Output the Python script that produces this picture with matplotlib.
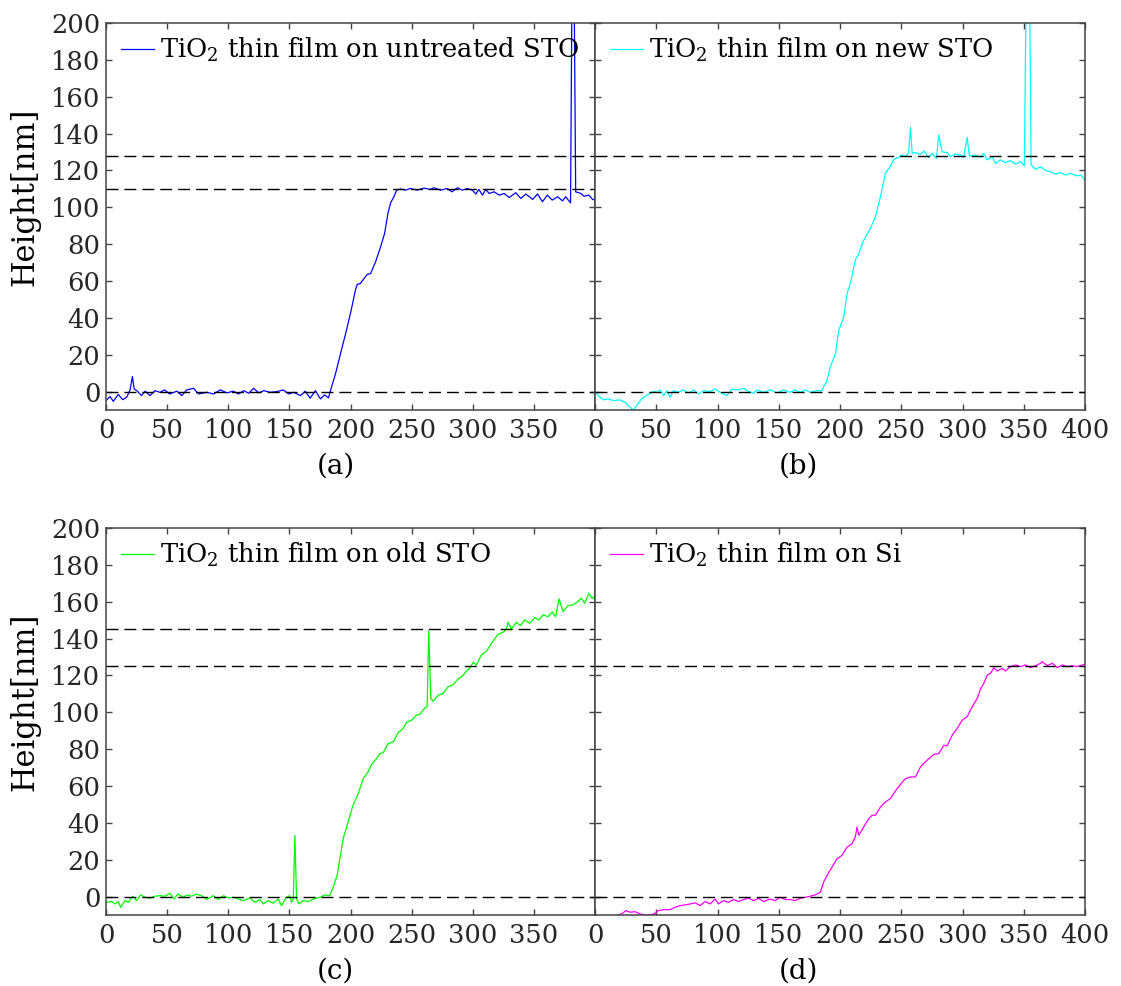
import numpy as np
import matplotlib
matplotlib.use('Agg')
import matplotlib.pyplot as plt

# height profiles (x position, height in nm), one per sample
prof_a = [(0, -4.9), (3.3, -2.7), (6, -5.3), (10, -1.6), (13.7, -4.4), (17, -3.0), (19.7, 0.9), (21.6, 8.2),
          (23, 1.5), (25.7, 0.2), (29, -2.2), (32, 0.2), (36, -2.2), (40, 0.5), (44, -0.4), (48, 0.9),
          (52, -1.3), (58, 0.2), (62, -2.2), (66, 0.9), (71.6, 1.8), (75.7, -1.3), (82.5, -0.4), (88, -1.3),
          (93.4, 0.9), (99, -0.7), (104, 0.2), (108.5, -1.3), (112.6, 0.5), (116.7, -0.9), (120.8, 1.8),
          (124.9, -0.7), (129, 0.5), (134.4, -0.4), (140, 0.0), (145, 0.9), (149.5, -1.3), (153.6, -0.4),
          (159, -2.2), (163, 0.2), (167, -3.6), (171.3, 0.5), (175.4, -4.0), (178.7, -1.8), (182, -3.4),
          (183.6, 0.5), (187.7, 9.6), (191.8, 20.5), (196, 31.4), (200.5, 44.0), (204, 55.0), (205.5, 58.2),
          (208, 58.6), (211, 61.3), (213.7, 63.6), (216.4, 64.0), (220.5, 70.4), (224.6, 78.5), (227.9, 85.8),
          (230.6, 96.6), (232.8, 102.4), (235.5, 105.7), (237.7, 109.3), (241, 109.9), (245, 109.3),
          (249, 110.2), (254.6, 109.3), (260, 110.4), (265.6, 109.7), (268, 110.6), (273.8, 109.3),
          (279, 110.2), (283, 108.4), (287.4, 110.6), (291.5, 109.3), (295.6, 110.2), (299.7, 109.3),
          (302.5, 107.2), (305, 109.7), (308, 106.6), (310.7, 109.7), (313.4, 107.5), (317.5, 108.4),
          (321.6, 106.6), (325.7, 107.5), (329.8, 105.3), (335.2, 107.9), (339.3, 104.8), (343.4, 107.2),
          (349, 104.3), (353, 107.2), (357, 103.0), (361, 106.6), (365, 103.9), (369.4, 105.7), (373.5, 103.5),
          (376, 105.7), (380, 102.4), (382, 300.0), (384.2, 108.4), (388.5, 107.5), (391, 106.0), (395, 106.6),
          (398, 104.3), (400, 103.9)]

prof_b = [(0, 0), (2.7, -2.2), (6.8, -4.5), (10.9, -4), (15, -4.9), (20.4, -4.5), (24.5, -5.8), (28.6, -8.5),
          (31.3, -10), (34, -7.6), (38, -4), (42, -2.2), (47.7, 0.2), (50.4, -0.4), (53, 0.9), (56, -2.2),
          (58.6, 0.5), (61.3, -3.1), (64, 0.5), (68, -0.4), (72.2, 0.9), (76.3, -0.9), (80.4, 0.9), (84.5, -1.3),
          (88.5, 0.5), (94, 0), (98, 1.5), (102, -0.4), (107.6, -2.2), (111.7, 1.3), (117, 0.9), (121, 1.8),
          (125, 0.2), (129.4, -0.9), (132, 0.9), (137.6, -0.4), (143, 0.9), (148.5, -0.7), (154, 0.9),
          (159, -0.4), (163.5, 0.9), (167.6, -0.4), (171.7, 0.9), (175.7, -0.4), (181, 0.5), (185, 0.5),
          (189.4, 6), (192, 13.2), (196.2, 20.5), (199, 33.2), (203, 40.4), (205.7, 53.1), (208.4, 58.6),
          (212.5, 71.3), (215.3, 74.9), (219.3, 82.1), (224.8, 88.5), (228.9, 94.8), (233, 105.7), (237, 118.4),
          (241, 122), (244, 126), (248, 127.1), (250.7, 128.4), (253.4, 127.8), (256, 129.3), (257.5, 143.4),
          (258.9, 129.3), (261.6, 129.7), (265.7, 128.7), (268.4, 130.5), (272.5, 127.1), (275.2, 129.3),
          (278.7, 126.4), (280.6, 139.3), (283.4, 130.1), (287.5, 129.7), (290, 127.5), (294, 128.9),
          (298.4, 128.4), (301, 127.1), (303.8, 138), (305.7, 127.8), (310.6, 128.4), (314.7, 127.1),
          (317.4, 129.3), (320, 125.7), (324.3, 127.5), (327, 123.8), (331, 125.7), (335, 124.2), (339, 125.3),
          (343.3, 123.5), (347.4, 124.8), (350.5, 122.4), (353.5, 320), (356, 122.9), (359.7, 120.6),
          (363.8, 122), (367.9, 119.9), (372, 119.3), (376, 118), (380, 118.8), (384, 117.5), (388, 118.4),
          (393.7, 117), (396.5, 117.5), (400, 114.8)]

prof_c = [(0, -3.1), (4.6, -2.7), (7.4, -4), (10, -2.7), (12, -5.8), (15.5, -2.2), (18.3, -3.1), (21.8, 0.2),
          (25, -2.2), (28.3, 0.9), (31.9, -0.4), (36, -0.9), (40, 0.2), (44, 0.5), (48.2, 0.2), (52.3, 1.8),
          (55.6, -1.3), (59, 1.5), (63, -0.4), (66.5, 0.9), (70, 0.2), (74, 1.3), (78.2, 0.5), (82.3, -1.6),
          (87.7, 0.5), (91.8, -1.6), (96, 0.5), (100, -0.7), (104, -0.4), (108, -1.3), (112.3, -2.2),
          (117.7, -0.7), (121.8, -3.1), (125.9, -1.6), (128.6, -4), (132.7, -2.2), (136.8, -3.6), (140.9, -1.3),
          (143.6, -4.9), (147, -0.9), (150, 0.5), (151.8, -3.1), (153.2, -1.3), (154.5, 33.2), (155.9, -1.3),
          (157.8, -4), (161.3, -2.2), (165.4, -2.7), (169.5, -1.3), (175, -0.4), (179, 0.9), (183, 0.5),
          (185.8, 5), (189, 11.4), (191.3, 20.5), (194, 31.4), (198, 40.4), (202, 49.5), (206.3, 55.8),
          (210.4, 64), (214.4, 67.6), (217.2, 71.6), (221.3, 74.9), (224, 77.6), (226.7, 78), (230.8, 83),
          (235, 84), (239, 89), (243, 91.2), (245.8, 94.5), (249.9, 95.7), (254, 98.5), (256.7, 98.8),
          (260.8, 102.4), (262.7, 103), (264, 144.2), (265.7, 107.5), (267.6, 106), (271.7, 109.3),
          (275.8, 110.2), (279.9, 113.9), (284, 115.1), (288, 118), (292, 119.9), (294.8, 122.4), (297.5, 123.8),
          (300.3, 127.1), (303, 125.7), (307, 131.1), (311, 132.9), (315.3, 137.4), (320.7, 142.3),
          (324.8, 143.4), (327.5, 145.2), (329, 148.9), (331.6, 145.2), (335.7, 148.9), (339, 147),
          (342.5, 150.1), (346.6, 148.3), (350.7, 151.4), (354.2, 150.1), (357.5, 152.9), (361.6, 151.9),
          (364.9, 154.3), (367.8, 151.9), (370.6, 161.6), (373.8, 154.7), (377.9, 157.9), (382, 158.3),
          (386, 160.1), (388.8, 161.9), (391.6, 159.2), (395, 164.6), (397.8, 161.6), (400, 163.4)]

prof_d = [(18, -10.2), (21.8, -9.4), (25.3, -7.6), (28.6, -8.5), (32.7, -8.2), (36.8, -9.4), (40.9, -10),
          (45, -10), (49, -9.1), (51.8, -7.6), (55.9, -7.1), (61.3, -7.1), (65.4, -5.8), (69.5, -4.9),
          (73.6, -4.5), (77.7, -4), (81.7, -3.4), (85.8, -4.9), (89.9, -2.7), (94, -4), (98, -1.3), (100.8, -4),
          (104.9, -2.2), (109, -3.1), (113, -1.6), (117.2, -2.7), (121.3, -1.6), (125.3, -0.9), (129.4, -2.2),
          (133.5, -0.9), (137.6, -2.7), (143, -1.3), (147, -2.2), (151.2, -0.4), (155.3, -1.6), (159.4, -1.6),
          (163.5, -2.2), (167.6, -0.9), (171.7, -0.4), (175.7, 0.2), (179.8, 0.9), (184, 2.4), (186.6, 7.8),
          (189.4, 11.4), (193.5, 16), (197.5, 20.5), (201.6, 22.3), (205.7, 26.8), (209.8, 28.6), (212.5, 32.3),
          (213.9, 37.7), (215.3, 33.2), (219.3, 37.7), (223.4, 42.2), (226.2, 44.1), (228.9, 44.1), (233, 48.6),
          (237, 51.3), (241.1, 53.1), (246.6, 58.6), (253.4, 64), (257.5, 64.9), (261.6, 64.9), (265.7, 70.4),
          (271.1, 74), (276.6, 77.1), (280.7, 77.6), (284.7, 82.1), (287.5, 81.8), (291.6, 87.6), (295.6, 91.2),
          (299.7, 95.7), (303.8, 97.6), (307.9, 103), (312, 107.5), (314.7, 112.6), (317.4, 115.7),
          (320.2, 120.2), (322.9, 121.1), (325.6, 124.2), (328.3, 122.4), (332.4, 123.8), (335.1, 122.4),
          (339.2, 124.8), (343.3, 125.7), (347.4, 124.8), (351.5, 125.7), (355.6, 124.2), (359.7, 125.3),
          (363.8, 126.6), (365, 127.5), (369.2, 125.3), (373.3, 126.6), (377.4, 124.2), (381.5, 125.7),
          (385.6, 124.8), (389.6, 125.3), (393.7, 124.8), (397.8, 125.7), (400, 126)]

# reference levels (dashed) per panel
levels_a = [0, 110, 128]
levels_b = [0, 128]
levels_c = [0, 125, 145]
levels_d = [0, 125]

labels = ['TiO$_2$ thin film on untreated STO', 'TiO$_2$ thin film on new STO',
          'TiO$_2$ thin film on old STO', 'TiO$_2$ thin film on Si']
colors = ['#0000ff', '#00ffff', '#00ff00', '#ff00ff']
tags = ['(a)', '(b)', '(c)', '(d)']

plt.rcParams['font.family'] = 'DejaVu Serif'
plt.rcParams['mathtext.fontset'] = 'dejavuserif'
plt.rcParams['lines.scale_dashes'] = False

W, H = 1121, 986
fig = plt.figure(figsize=(W / 100, H / 100), dpi=100)


def add_axes_px(x0, y0, x1, y1):
    return fig.add_axes([x0 / W, 1 - y1 / H, (x1 - x0) / W, (y1 - y0) / H])


axes = [add_axes_px(106, 23, 595, 410), add_axes_px(595, 23, 1085, 410),
        add_axes_px(106, 528, 595, 915), add_axes_px(595, 528, 1085, 915)]
profiles = [prof_a, prof_b, prof_c, prof_d]
levels = [levels_a, levels_b, levels_c, levels_d]
tag_x = [0.47, 0.415, 0.47, 0.415]

for i, ax in enumerate(axes):
    x, h = np.array(profiles[i]).T
    ax.plot(x, h, color=colors[i], lw=0.9, label=labels[i])
    for lv in levels[i]:
        ax.axhline(lv, color='black', lw=1.0, dashes=(8.6, 4.3), zorder=3)

    ax.set_xlim(0, 400)
    ax.set_ylim(-10, 200)
    ax.set_yticks(range(0, 201, 20))
    left = (i % 2 == 0)
    if left:
        ax.set_xticks(range(0, 400, 50))
        ax.set_ylabel('Height[nm]', fontsize=22)
        ax.yaxis.set_label_coords(-0.135, 0.55)
    else:
        ax.set_xticks(range(0, 401, 50))
    ax.tick_params(direction='in', top=True, right=True, length=4, width=1,
                   color='#444444', labelcolor='#262626', labelsize=18.5,
                   labelleft=left)
    ax.tick_params(axis='x', pad=6)
    ax.tick_params(axis='y', pad=4)
    for s in ax.spines.values():
        s.set_color('#444444')
        s.set_linewidth(1.1)

    ax.set_xlabel(tags[i], fontsize=20)
    ax.xaxis.set_label_coords(tag_x[i], -0.11)

    ax.legend(loc='upper left', bbox_to_anchor=(15 / 489, 1 - 13 / 387), frameon=False,
              fontsize=18.5, handlelength=1.3, handletextpad=0.2,
              borderaxespad=0, borderpad=0)

fig.savefig('out.png', dpi=100)
